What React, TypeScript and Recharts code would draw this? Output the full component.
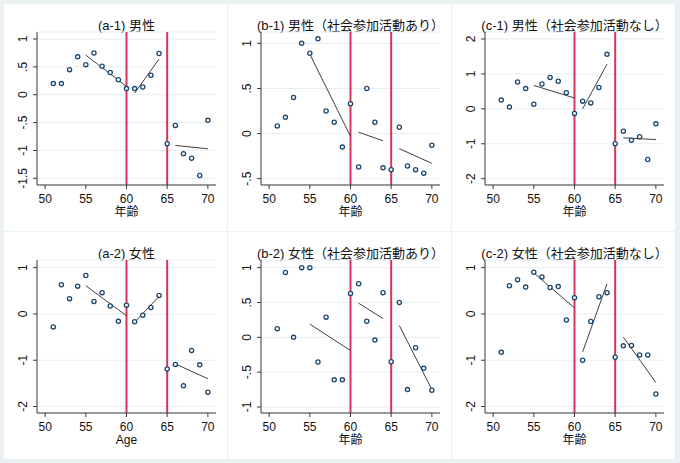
import React from "react";
import {
  ComposedChart,
  Scatter,
  Line,
  XAxis,
  YAxis,
  CartesianGrid,
  ReferenceLine,
} from "recharts";

// ---- data ----
const ages = [51, 52, 53, 54, 55, 56, 57, 58, 59, 60, 61, 62, 63, 64, 65, 66, 67, 68, 69, 70];
const fitAges = [55, 60, 61, 64, 66, 70];
const xTicks = [50, 55, 60, 65, 70];
const cutoffAges = [60, 65];

const a1Values = [0.2, 0.2, 0.45, 0.68, 0.54, 0.75, 0.51, 0.4, 0.27, 0.11, 0.11, 0.14, 0.35, 0.74, -0.88, -0.55, -1.06, -1.14, -1.45, -0.46];
const a1Fit = [0.71, 0.15, 0.03, 0.64, -0.91, -0.97];
const a1Ticks = [-1.5, -1, -0.5, 0, 0.5, 1];

const b1Values = [0.085, 0.18, 0.4, 1.0, 0.89, 1.05, 0.25, 0.126, -0.15, 0.33, -0.37, 0.5, 0.126, -0.38, -0.4, 0.07, -0.36, -0.4, -0.44, -0.13];
const b1Fit = [0.88, -0.03, 0.015, -0.08, -0.167, -0.33];
const b1Ticks = [-0.5, 0, 0.5, 1];

const c1Values = [0.25, 0.05, 0.77, 0.58, 0.13, 0.71, 0.9, 0.79, 0.46, -0.13, 0.22, 0.17, 0.61, 1.56, -1.0, -0.64, -0.9, -0.8, -1.45, -0.43];
const c1Fit = [0.67, 0.31, 0.0, 1.28, -0.83, -0.88];
const c1Ticks = [-2, -1, 0, 1, 2];

const a2Values = [-0.28, 0.63, 0.33, 0.6, 0.83, 0.27, 0.46, 0.17, -0.16, 0.19, -0.17, -0.03, 0.14, 0.4, -1.19, -1.09, -1.55, -0.79, -1.1, -1.69];
const a2Fit = [0.61, -0.04, -0.18, 0.38, -1.08, -1.4];
const a2Ticks = [-2, -1, 0, 1];

const b2Values = [0.125, 0.93, 0.0, 1.0, 1.0, -0.355, 0.29, -0.61, -0.61, 0.63, 0.77, 0.23, -0.04, 0.64, -0.35, 0.5, -0.75, -0.15, -0.445, -0.76];
const b2Fit = [0.19, -0.19, 0.49, 0.27, 0.17, -0.75];
const b2Ticks = [-1, -0.5, 0, 0.5, 1];

const c2Values = [-0.83, 0.61, 0.74, 0.58, 0.9, 0.8, 0.57, 0.59, -0.13, 0.35, -1.0, -0.165, 0.37, 0.46, -0.935, -0.69, -0.68, -0.885, -0.885, -1.73];
const c2Fit = [0.885, 0.13, -0.82, 0.65, -0.5, -1.48];
const c2Ticks = [-2, -1, 0, 1];

const titles = [
  "(a-1) 男性",
  "(b-1) 男性（社会参加活動あり）",
  "(c-1) 男性（社会参加活動なし）",
  "(a-2) 女性",
  "(b-2) 女性（社会参加活動あり）",
  "(c-2) 女性（社会参加活動なし）",
];
const xTitles = ["年齢", "年齢", "年齢", "Age", "年齢", "年齢"];

// ---- styling ----
const BG = "#eaf1f3";
const GRID = "#e6eef1";
const NAVY = "#1a476f";
const RED = "#d6345f";
const AXIS = "#3a3a3a";
const FONT = '"Liberation Sans", Arial, "Noto Sans CJK JP", sans-serif';

const PANEL_W = 223;
const PANEL_H = 227;
const PLOT_L = 33;
const PLOT_R = 212;
const PLOT_T = 28;
const PLOT_B = 181;
const Y_AXIS_W = 20;
const X_AXIS_H = 30;

const fmt = (v: number) => {
  if (v === 0) return "0";
  const s = String(v);
  return s.replace(/^(-?)0\./, "$1.");
};

const buildPoints = (values: number[]) => ages.map((x, i) => ({ x, y: values[i] }));
const buildFits = (fitY: number[]) =>
  [
    [0, 1],
    [2, 3],
    [4, 5],
  ].map(([a, b]) => [
    { x: fitAges[a], y: fitY[a] },
    { x: fitAges[b], y: fitY[b] },
  ]);

type PanelCfg = {
  values: number[];
  fit: number[];
  ticks: number[];
  domain: [number, number];
};

const panels: PanelCfg[] = [
  { values: a1Values, fit: a1Fit, ticks: a1Ticks, domain: [-1.62, 1.126] },
  { values: b1Values, fit: b1Fit, ticks: b1Ticks, domain: [-0.57, 1.126] },
  { values: c1Values, fit: c1Fit, ticks: c1Ticks, domain: [-2.18, 2.2] },
  { values: a2Values, fit: a2Fit, ticks: a2Ticks, domain: [-2.14, 1.165] },
  { values: b2Values, fit: b2Fit, ticks: b2Ticks, domain: [-1.086, 1.11] },
  { values: c2Values, fit: c2Fit, ticks: c2Ticks, domain: [-2.14, 1.165] },
];

const YTick = (props: any) => {
  const { y, payload } = props;
  const cx = 19;
  return (
    <text
      x={cx}
      y={y}
      transform={`rotate(-90, ${cx}, ${y})`}
      textAnchor="middle"
      dominantBaseline="central"
      fontSize={12}
      fontFamily={FONT}
      fill="#111"
    >
      {fmt(payload.value)}
    </text>
  );
};

const Marker = (props: any) => {
  const { cx, cy } = props;
  if (cx == null || cy == null) return null;
  return <circle cx={cx} cy={cy} r={2.1} fill="#ffffff" stroke={NAVY} strokeWidth={1.3} />;
};

function Panel({ cfg, idx }: { cfg: PanelCfg; idx: number }) {
  const col = idx % 3;
  const row = Math.floor(idx / 3);
  const left = 4 + col * 224;
  const top = 4 + row * 228;
  const pts = buildPoints(cfg.values);
  const fits = buildFits(cfg.fit);
  const plotCenter = (PLOT_L + PLOT_R) / 2;
  return (
    <div
      style={{
        position: "absolute",
        left,
        top,
        width: PANEL_W,
        height: PANEL_H,
        background: "#ffffff",
        overflow: "hidden",
      }}
    >
      <div
        style={{
          position: "absolute",
          left: plotCenter - 110,
          width: 220,
          top: 13,
          textAlign: "center",
          fontFamily: FONT,
          fontSize: 13,
          lineHeight: "18px",
          color: "#111",
          whiteSpace: "nowrap",
        }}
      >
        {titles[idx]}
      </div>
      <ComposedChart
        width={PANEL_W}
        height={PANEL_H}
        margin={{
          top: PLOT_T,
          right: PANEL_W - PLOT_R,
          left: PLOT_L - Y_AXIS_W,
          bottom: PANEL_H - PLOT_B - X_AXIS_H,
        }}
        style={{ position: "absolute", left: 0, top: 0 }}
      >
        <CartesianGrid horizontal={true} vertical={false} stroke={GRID} strokeWidth={1} />
        <XAxis
          type="number"
          dataKey="x"
          domain={[49, 71]}
          ticks={xTicks}
          allowDataOverflow
          height={X_AXIS_H}
          tickSize={4}
          tickMargin={5}
          stroke={AXIS}
          tick={{ fontSize: 12, fontFamily: FONT, fill: "#111" }}
          interval={0}
        />
        <YAxis
          type="number"
          dataKey="y"
          domain={cfg.domain}
          ticks={cfg.ticks}
          allowDataOverflow
          width={Y_AXIS_W}
          tickSize={4}
          stroke={AXIS}
          tick={<YTick />}
          interval={0}
        />
        {cutoffAges.map((a) => (
          <ReferenceLine key={a} x={a} stroke={RED} strokeWidth={2} />
        ))}
        {fits.map((seg, i) => (
          <Line
            key={i}
            data={seg}
            dataKey="y"
            type="linear"
            stroke="#404040"
            strokeWidth={1}
            dot={false}
            activeDot={false}
            isAnimationActive={false}
          />
        ))}
        <Scatter data={pts} dataKey="y" shape={<Marker />} isAnimationActive={false} />
      </ComposedChart>
      <div
        style={{
          position: "absolute",
          left: plotCenter - 40,
          width: 80,
          top: 202,
          textAlign: "center",
          fontFamily: FONT,
          fontSize: 12,
          lineHeight: "13px",
          color: "#111",
        }}
      >
        {xTitles[idx]}
      </div>
    </div>
  );
}

export default function App() {
  return (
    <div
      style={{
        position: "absolute",
        left: 0,
        top: 0,
        width: 680,
        height: 463,
        background: BG,
        overflow: "hidden",
      }}
    >
      {panels.map((p, i) => (
        <Panel key={i} cfg={p} idx={i} />
      ))}
    </div>
  );
}
